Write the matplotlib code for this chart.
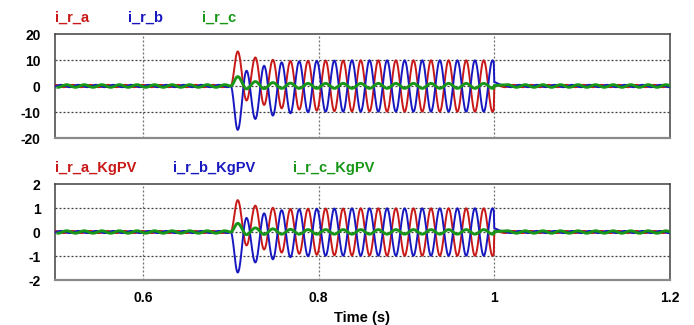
import numpy as np
import matplotlib
matplotlib.use("Agg")
import matplotlib.pyplot as plt

plt.rcParams['font.family'] = ['Liberation Sans', 'DejaVu Sans']
plt.rcParams['font.weight'] = 'bold'
plt.rcParams['axes.unicode_minus'] = False

# ---------------- data ----------------
time_range = [0.5, 1.2]
event_on = 0.700
event_off = 1.000
first_extreme_time = 0.708
half_period = 0.010

top_labels = ["i_r_a", "i_r_b", "i_r_c"]
bottom_labels = ["i_r_a_KgPV", "i_r_b_KgPV", "i_r_c_KgPV"]
colors = ["#C81818", "#1818C0", "#189618"]

x_ticks = [0.6, 0.8, 1.0, 1.2]
x_tick_labels = ["0.6", "0.8", "1", "1.2"]
top_yticks = [20, 10, 0, -10, -20]
bottom_yticks = [2, 1, 0, -1, -2]

# alternating extremes during the event (top panel), one every half period
ira_top = [13.3, -5.6, 11.0, -7.3, 10.1, -8.6, 9.6, -9.1, 9.7, -9.5,
           9.8, -9.7, 9.8, -9.8, 9.9, -9.8, 9.9, -9.9, 9.9, -9.9,
           9.9, -9.9, 9.9, -9.9, 9.9, -9.9, 9.9, -9.9, 9.9, -9.9]
irb_top = [-16.9, 5.9, -12.7, 7.8, -11.4, 9.1, -10.5, 9.5, -10.1, 9.7,
           -9.9, 9.8, -9.9, 9.9, -9.9, 9.9, -9.9, 9.9, -9.9, 9.9,
           -9.9, 9.9, -9.9, 9.9, -9.9, 9.9, -9.9, 9.9, -9.9, 9.9]
irc_top = [3.6, -1.1, 1.7, -1.0, 1.3, -0.9, 1.1, -0.9, 1.0, -0.9,
           1.0, -0.9, 1.0, -0.9, 1.0, -0.9, 1.0, -0.9, 1.0, -0.9,
           1.0, -0.9, 1.0, -0.9, 1.0, -0.9, 1.0, -0.9, 1.0, -0.9]

# same currents scaled (bottom panel)
ira_bot = [1.33, -0.56, 1.10, -0.73, 1.01, -0.86, 0.96, -0.91, 0.97, -0.95,
           0.98, -0.97, 0.98, -0.98, 0.99, -0.98, 0.99, -0.99, 0.99, -0.99,
           0.99, -0.99, 0.99, -0.99, 0.99, -0.99, 0.99, -0.99, 0.99, -0.99]
irb_bot = [-1.69, 0.59, -1.27, 0.78, -1.14, 0.91, -1.05, 0.95, -1.01, 0.97,
           -0.99, 0.98, -0.99, 0.99, -0.99, 0.99, -0.99, 0.99, -0.99, 0.99,
           -0.99, 0.99, -0.99, 0.99, -0.99, 0.99, -0.99, 0.99, -0.99, 0.99]
irc_bot = [0.36, -0.11, 0.17, -0.10, 0.13, -0.09, 0.11, -0.09, 0.10, -0.09,
           0.10, -0.09, 0.10, -0.09, 0.10, -0.09, 0.10, -0.09, 0.10, -0.09,
           0.10, -0.09, 0.10, -0.09, 0.10, -0.09, 0.10, -0.09, 0.10, -0.09]

# small ripple before / after the event
ripple_amp_top = [0.45, 0.45, 0.5]
ripple_amp_bot = [0.045, 0.045, 0.05]
ripple_offset = [0.0, 0.0067, 0.0133]
# jump right after the event ends
post_jump_top = [-0.4, 1.4, 0.2]
post_jump_bot = [-0.04, 0.14, 0.02]


# ---------------- helpers ----------------
def smooth_path(times, values, n=14):
    ts, vs = [], []
    for i in range(len(times) - 1):
        s = np.linspace(0, 1, n, endpoint=False)
        ts.append(times[i] + s * (times[i + 1] - times[i]))
        vs.append(values[i] + (values[i + 1] - values[i]) * (1 - np.cos(np.pi * s)) / 2)
    ts.append([times[-1]])
    vs.append([values[-1]])
    return np.concatenate(ts), np.concatenate(vs)


def build_series(extremes, amp, offset, jump):
    # ripple before the event
    k_pre = np.arange(-1, 21)
    t_pre = time_range[0] + offset + k_pre * half_period
    keep = t_pre < event_on - 0.002
    t_pre = list(t_pre[keep])
    v_pre = [amp * (1 if k % 2 == 0 else -1) for k in k_pre[keep]]
    # event oscillation
    t_ev = [event_on] + [first_extreme_time + i * half_period for i in range(len(extremes))]
    v_ev = [0.0] + list(extremes)
    t_ev.append(t_ev[-1] + half_period)
    v_ev.append(-extremes[-1])
    t1, v1 = smooth_path(t_pre + t_ev, v_pre + v_ev)
    m = t1 <= event_off
    t1, v1 = t1[m], v1[m]
    # ripple after the event
    k_post = np.arange(0, 22)
    t_post = [event_off] + list(event_off + 0.002 + offset + k_post * half_period)
    v_post = [jump] + [amp * (1 if k % 2 == 0 else -1) for k in k_post]
    t2, v2 = smooth_path(t_post, v_post)
    return np.concatenate([t1, t2]), np.concatenate([v1, v2])


# ---------------- figure ----------------
W, H = 694, 325
fig = plt.figure(figsize=(W / 100, H / 100), dpi=100)

left, right = 55 / W, 670 / W
ax_top = fig.add_axes([left, 1 - 138 / H, right - left, 104 / H])
ax_bot = fig.add_axes([left, 1 - 280 / H, right - left, 96 / H])

widths = [1.4, 1.4, 2.1]

panels = [
    (ax_top, [ira_top, irb_top, irc_top], ripple_amp_top, post_jump_top, top_yticks, top_labels, 22),
    (ax_bot, [ira_bot, irb_bot, irc_bot], ripple_amp_bot, post_jump_bot, bottom_yticks, bottom_labels, 172),
]

for ax, series, amps, jumps, yticks, labels, label_base in panels:
    for idx, ext in enumerate(series):
        t, v = build_series(ext, amps[idx], ripple_offset[idx], jumps[idx])
        ax.plot(t, v, color=colors[idx], lw=widths[idx], zorder=3 + idx,
                solid_joinstyle='round')
    ax.set_xlim(time_range)
    ax.set_ylim(yticks[-1], yticks[0])
    ax.set_yticks(yticks)
    ax.set_yticklabels([str(y) for y in yticks])
    ax.set_xticks(x_ticks)
    ax.tick_params(length=0, labelsize=10, pad=10.5)
    for lab in ax.get_yticklabels():
        lab.set_fontweight('bold')
    # grid
    for x in x_ticks[:-1]:
        ax.axvline(x, color='#707070', lw=0.9, ls=(0, (1.6, 1.6)), zorder=1)
    for y in yticks[1:-1]:
        ax.axhline(y, color='#404040', lw=0.9, ls=(0, (1.6, 1.6)), zorder=1)
    for sp in ax.spines.values():
        sp.set_color('#404040')
        sp.set_linewidth(1.1)
    ax.spines['bottom'].set_color('#8a8a8a')
    ax.spines['bottom'].set_linewidth(1.6)
    # legend texts above the panel
    xs = [55, 128, 202] if ax is ax_top else [55, 173, 293]
    for x, lab, c in zip(xs, labels, colors):
        fig.text(x / W, 1 - label_base / H, lab, color=c, fontsize=10.5,
                 fontweight='bold', va='baseline', ha='left')

ax_top.set_xticklabels([])
ax_bot.set_xticklabels(x_tick_labels, fontweight='bold')
ax_bot.tick_params(axis='x', pad=8)

fig.text((55 + 670) / 2 / W, 1 - 318 / H, "Time (s)", fontsize=10.5,
         fontweight='bold', ha='center', va='center')

fig.savefig("out.png", dpi=100)
